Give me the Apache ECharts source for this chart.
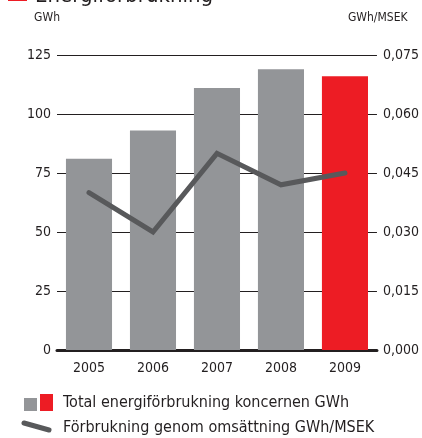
<!DOCTYPE html>
<html>
<head>
<meta charset="utf-8">
<script src="https://cdn.jsdelivr.net/npm/echarts@6/dist/echarts.min.js"></script>
<style>
  html, body { margin: 0; padding: 0; background: #fff; }
  #chart { width: 422px; height: 438px; }
</style>
</head>
<body>
<div id="chart"></div>
<script>
var years = ["2005", "2006", "2007", "2008", "2009"];
var energyGWh = [81, 93, 111, 119, 116];
var perRevenue = [0.040, 0.030, 0.050, 0.042, 0.045];
var leftTicks = [0, 25, 50, 75, 100, 125];
var rightTicks = [0, 0.015, 0.030, 0.045, 0.060, 0.075];
var currentYear = "2009";

var FONT = "'Liberation Sans Narrow', 'DejaVu Sans Condensed', sans-serif";
var GREY = "#939598";
var RED = "#ed1c24";
var LINE = "#58595b";
var INK = "#231f20";

var chart = echarts.init(document.getElementById("chart"));

var option = {
  animation: false,
  textStyle: { fontFamily: FONT },
  grid: { left: 57, right: 42, top: 55, bottom: 88 },
  xAxis: {
    type: "category",
    data: years,
    axisLine: { lineStyle: { color: INK, width: 3 } },
    axisTick: { show: false },
    axisLabel: { color: INK, fontSize: 14, fontFamily: FONT, margin: 11 }
  },
  yAxis: [
    {
      type: "value",
      min: leftTicks[0],
      max: leftTicks[leftTicks.length - 1],
      interval: 25,
      name: "GWh",
      nameLocation: "end",
      nameGap: 31,
      nameTextStyle: { color: INK, fontSize: 12, fontFamily: FONT, align: "right", padding: [0, -3, 0, 0] },
      axisLine: { show: false },
      axisTick: { show: false },
      axisLabel: { color: INK, fontSize: 14, fontFamily: FONT, margin: 6 },
      splitLine: { lineStyle: { color: INK, width: 1 } }
    },
    {
      type: "value",
      min: rightTicks[0],
      max: rightTicks[rightTicks.length - 1],
      interval: 0.015,
      name: "GWh/MSEK",
      nameLocation: "end",
      nameGap: 31,
      nameTextStyle: { color: INK, fontSize: 12, fontFamily: FONT, align: "left", padding: [0, 0, 0, -29] },
      axisLine: { show: false },
      axisTick: { show: false },
      axisLabel: {
        color: INK, fontSize: 14, fontFamily: FONT, margin: 6,
        formatter: function (v) { return v.toFixed(3).replace(".", ","); }
      },
      splitLine: { show: false }
    }
  ],
  series: [
    {
      type: "bar",
      data: energyGWh.map(function (v, i) {
        return { value: v, itemStyle: { color: years[i] === currentYear ? RED : GREY } };
      }),
      barWidth: "72%",
      z: 2
    },
    {
      type: "line",
      yAxisIndex: 1,
      data: perRevenue,
      showSymbol: false,
      symbol: "none",
      lineStyle: { color: LINE, width: 5, cap: "round", join: "miter" },
      z: 3
    }
  ],
  graphic: [
    { type: "rect", shape: { x: 8, y: -12, width: 19, height: 13 }, style: { fill: RED } },
    { type: "text", x: 35, y: 7, style: { text: "Energiförbrukning", fill: INK, font: "22px " + FONT, verticalAlign: "bottom" } },
    { type: "rect", shape: { x: 24, y: 398, width: 13, height: 13 }, style: { fill: GREY } },
    { type: "rect", shape: { x: 40, y: 394, width: 13, height: 17 }, style: { fill: RED } },
    { type: "text", x: 63, y: 403, style: { text: "Total energiförbrukning koncernen GWh", fill: INK, font: "16px " + FONT, verticalAlign: "middle" } },
    { type: "line", shape: { x1: 24, y1: 423, x2: 49, y2: 430 }, style: { stroke: LINE, lineWidth: 5, lineCap: "round" } },
    { type: "text", x: 63, y: 428, style: { text: "Förbrukning genom omsättning GWh/MSEK", fill: INK, font: "16px " + FONT, verticalAlign: "middle" } }
  ]
};

chart.setOption(option);
</script>
</body>
</html>
